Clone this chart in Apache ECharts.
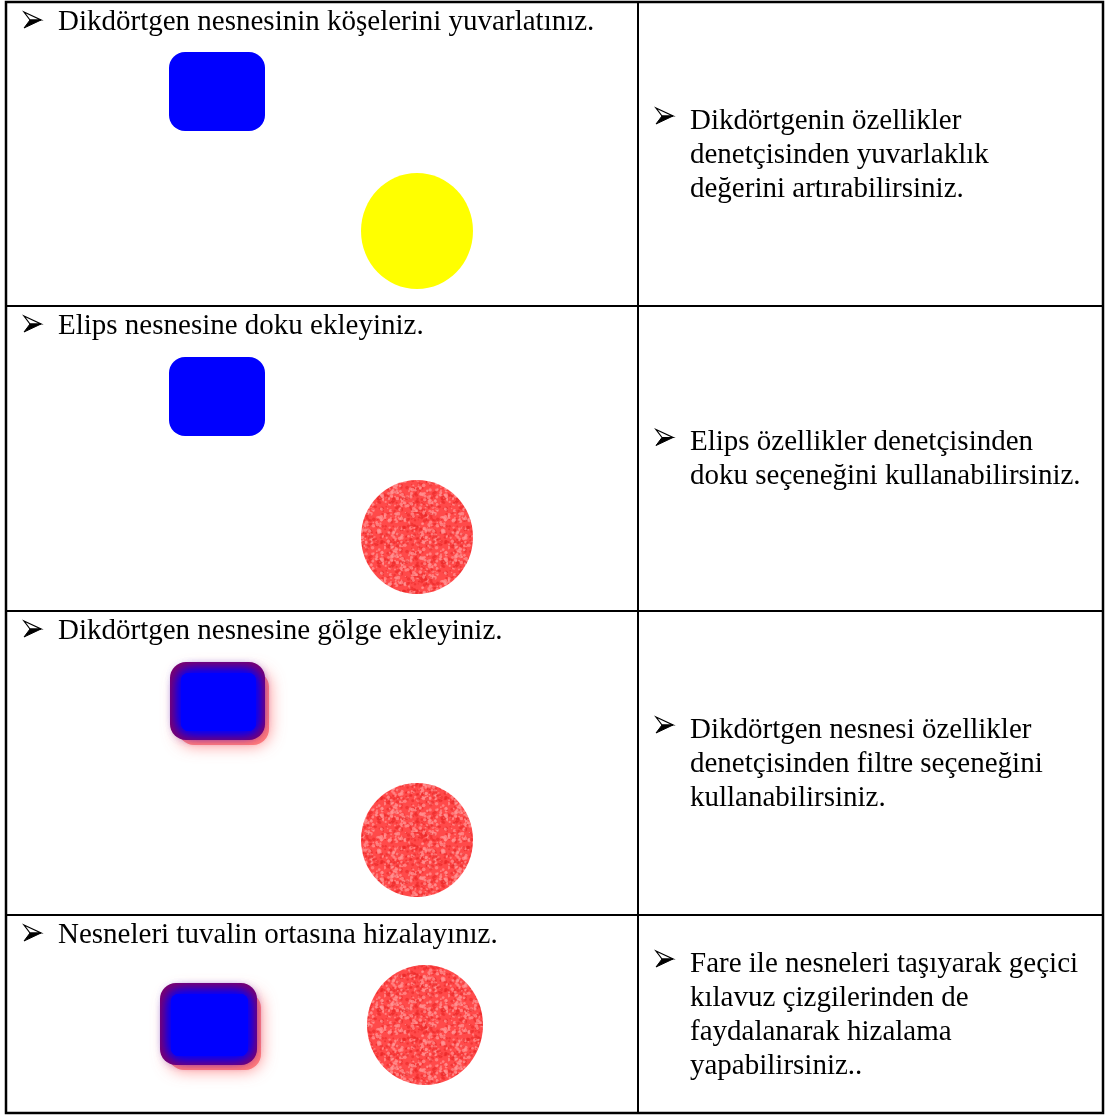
<!DOCTYPE html>
<html><head><meta charset="utf-8">
<script src="https://cdn.jsdelivr.net/npm/echarts@6/dist/echarts.min.js"></script>
<style>html,body{margin:0;padding:0;background:#fff}#c{width:1108px;height:1116px}</style>
</head><body><div id="c"></div>
<script>
// ---- content ----
const leftTexts = [
  'Dikdörtgen nesnesinin köşelerini yuvarlatınız.',
  'Elips nesnesine doku ekleyiniz.',
  'Dikdörtgen nesnesine gölge ekleyiniz.',
  'Nesneleri tuvalin ortasına hizalayınız.'
];
const rightTexts = [
  ['Dikdörtgenin özellikler', 'denetçisinden yuvarlaklık', 'değerini artırabilirsiniz.'],
  ['Elips özellikler denetçisinden', 'doku seçeneğini kullanabilirsiniz.'],
  ['Dikdörtgen nesnesi özellikler', 'denetçisinden filtre seçeneğini', 'kullanabilirsiniz.'],
  ['Fare ile nesneleri taşıyarak geçici', 'kılavuz çizgilerinden de', 'faydalanarak hizalama', 'yapabilirsiniz..']
];
const rectStyles = ['plain', 'plain', 'shadow', 'shadow'];
const circleStyles = ['yellow', 'texture', 'texture', 'texture'];

// ---- layout ----
const L = 6, R = 1103, MID = 638;
const rowLines = [2, 306, 611, 915, 1113];
const FONT = '"Liberation Serif","Times New Roman",serif';
const FS = 29, LH = 34;
const rectGeo = [
  {x: 169, y: 50, w: 96, h: 79},
  {x: 169, y: 51, w: 96, h: 79},
  {x: 170, y: 51, w: 95, h: 78},
  {x: 160, y: 68, w: 97, h: 82}
];
const circGeo = [
  {cx: 417, cy: 229, rx: 56, ry: 58},
  {cx: 417, cy: 231, rx: 56, ry: 57},
  {cx: 417, cy: 229, rx: 56, ry: 57},
  {cx: 425, cy: 110, rx: 58, ry: 60}
];

function makeTexture() {
  const c = document.createElement('canvas');
  c.width = 64; c.height = 64;
  const g = c.getContext('2d');
  g.fillStyle = '#ff4a4a';
  g.fillRect(0, 0, 64, 64);
  let s = 12345;
  const next = () => { s = (s * 1103515245 + 12345) & 0x7fffffff; return s / 0x7fffffff; };
  for (let i = 0; i < 600; i++) {
    const x = next() * 64, y = next() * 64, r = 0.6 + next() * 1.3;
    g.fillStyle = next() > 0.45 ? 'rgba(255,150,150,0.7)' : 'rgba(235,40,40,0.6)';
    g.beginPath(); g.arc(x, y, r, 0, Math.PI * 2); g.fill();
  }
  return c;
}
const tex = makeTexture();

function bullet(x, cy) {
  return [
    {type: 'polygon', shape: {points: [[x, cy - 8], [x + 17, cy], [x + 6, cy]]},
      style: {fill: '#fff', stroke: '#000', lineWidth: 1.2}, z: 5},
    {type: 'polygon', shape: {points: [[x + 6, cy], [x + 17, cy], [x, cy + 8]]},
      style: {fill: '#000', stroke: '#000', lineWidth: 1}, z: 5}
  ];
}

const els = [];
els.push({type: 'rect', shape: {x: L, y: rowLines[0], width: R - L, height: rowLines[4] - rowLines[0]},
  style: {fill: 'none', stroke: '#000', lineWidth: 2.5}, z: 10});
els.push({type: 'line', shape: {x1: MID, y1: rowLines[0], x2: MID, y2: rowLines[4]}, style: {stroke: '#000', lineWidth: 2}, z: 10});
for (let i = 1; i < 4; i++) {
  els.push({type: 'line', shape: {x1: L, y1: rowLines[i], x2: R, y2: rowLines[i]}, style: {stroke: '#000', lineWidth: 2}, z: 10});
}

for (let i = 0; i < 4; i++) {
  const top = rowLines[i], bot = rowLines[i + 1];
  const ty = top + 20;
  els.push(...bullet(24, ty - 2));
  els.push({type: 'text', x: 58, y: ty, style: {text: leftTexts[i], font: FS + 'px ' + FONT, fill: '#000', verticalAlign: 'middle'}});
  const lines = rightTexts[i];
  const center = (top + bot) / 2 + 1;
  const y0 = center - (lines.length - 1) * LH / 2;
  els.push(...bullet(656, y0 - 5));
  lines.forEach((ln, k) => {
    els.push({type: 'text', x: 690, y: y0 + k * LH, style: {text: ln, font: FS + 'px ' + FONT, fill: '#000', verticalAlign: 'middle'}});
  });
  const rg = rectGeo[i];
  if (rectStyles[i] === 'plain') {
    els.push({type: 'rect', shape: {x: rg.x, y: top + rg.y, width: rg.w, height: rg.h, r: 16}, style: {fill: '#0000ff'}});
  } else {
    els.push({type: 'rect', shape: {x: rg.x + 8, y: top + rg.y + 9, width: rg.w - 4, height: rg.h - 4, r: 16},
      style: {fill: 'rgba(255,95,95,0.75)', shadowBlur: 16, shadowColor: 'rgba(255,95,95,1)'}});
    els.push({type: 'rect', shape: {x: rg.x, y: top + rg.y, width: rg.w, height: rg.h, r: 16}, style: {fill: '#80006a'}});
    for (let k = 0; k < 3; k++) {
      els.push({type: 'rect', shape: {x: rg.x + 11, y: top + rg.y + 11, width: rg.w - 20, height: rg.h - 20, r: 8},
        style: {fill: '#0000ff', shadowBlur: 14, shadowColor: '#0000ff'}});
    }
  }
  const cg = circGeo[i];
  els.push({type: 'ellipse', shape: {cx: cg.cx, cy: top + cg.cy, rx: cg.rx, ry: cg.ry},
    style: {fill: circleStyles[i] === 'yellow' ? '#ffff00' : {image: tex, repeat: 'repeat'}}});
}

const chart = echarts.init(document.getElementById('c'));
chart.setOption({backgroundColor: '#fff', graphic: {elements: els}});
</script></body></html>
